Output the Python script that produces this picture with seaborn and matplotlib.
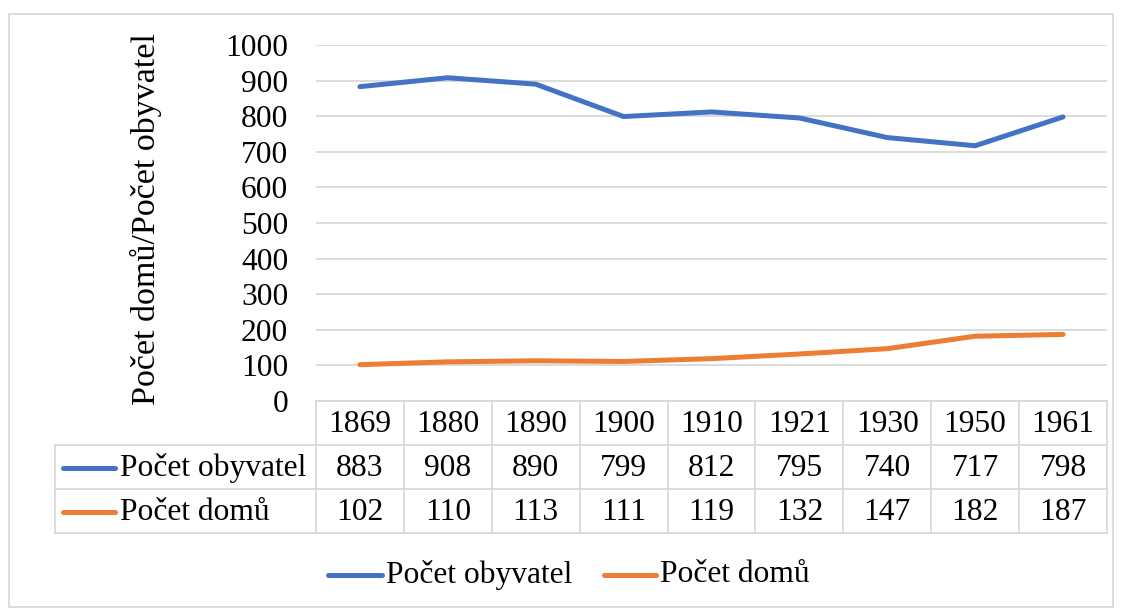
import matplotlib
matplotlib.use("Agg")
import matplotlib.pyplot as plt
import matplotlib.transforms as mtransforms
from matplotlib.lines import Line2D
from matplotlib.patches import Rectangle
import seaborn as sns
import pandas as pd

years = ["1869", "1880", "1890", "1900", "1910", "1921", "1930", "1950", "1961"]
obyvatel = [883, 908, 890, 799, 812, 795, 740, 717, 798]
domu = [102, 110, 113, 111, 119, 132, 147, 182, 187]
series_names = ["Počet obyvatel", "Počet domů"]
colors = ["#4472C4", "#ED7D31"]
yticks = list(range(0, 1001, 100))

sns.set_theme(style="white", font="Liberation Serif")
FONT = "Liberation Serif"
plt.rcParams["font.family"] = FONT

W, H = 1123, 608
fig = plt.figure(figsize=(W / 100, H / 100), dpi=100)

def fx(px):
    return px / W

def fy(py):
    return 1 - py / H

FS = 22.7
TXT = dict(fontsize=FS, family=FONT, color="black")
L, R, T, B = 316, 1107, 45, 401
ax = fig.add_axes([fx(L), fy(B), fx(R - L), (B - T) / H])

df = pd.DataFrame({
    "x": list(range(len(years))) * 2,
    "value": obyvatel + domu,
    "series": [series_names[0]] * len(years) + [series_names[1]] * len(years),
})
sns.lineplot(data=df, x="x", y="value", hue="series", palette=colors,
             linewidth=3.6, ax=ax, legend=False, solid_capstyle="round")

ax.set_xlim(-0.5, len(years) - 0.5)
ax.set_ylim(0, 1000)
ax.set_yticks(yticks)
ax.set_yticklabels([str(t) for t in yticks], **TXT)
ax.set_xticks([])
ax.tick_params(axis="y", length=0, pad=20)
ax.set_xlabel("")
ax.set_ylabel("")
for s in ax.spines.values():
    s.set_visible(False)
ax.grid(axis="y", color="#D9D9D9", linewidth=1.3)
ax.set_axisbelow(True)

fig.text(fx(146), fy(219), "Počet domů/Počet obyvatel", rotation=90,
         ha="center", va="center", fontsize=24.5, family=FONT, color="black")

# Data table
grid_c = "#D9D9D9"
blend = mtransforms.blended_transform_factory(ax.transData, fig.transFigure)
rows_y = [401, 445, 489, 533]
n = len(years)
fig.add_artist(Line2D([fx(L), fx(R)], [fy(401), fy(401)], color=grid_c, lw=1.3))
for yy in rows_y[1:]:
    fig.add_artist(Line2D([fx(55), fx(R)], [fy(yy), fy(yy)], color=grid_c, lw=1.3))
for k in range(n + 1):
    fig.add_artist(Line2D([k - 0.5, k - 0.5], [fy(401), fy(533)], color=grid_c,
                          lw=1.3, transform=blend))
fig.add_artist(Line2D([fx(55), fx(55)], [fy(445), fy(533)], color=grid_c, lw=1.3))

for i, yr in enumerate(years):
    fig.text(i, fy(424), yr, transform=blend, ha="center", va="center", **TXT)
    fig.text(i, fy(468), str(obyvatel[i]), transform=blend, ha="center", va="center", **TXT)
    fig.text(i, fy(512), str(domu[i]), transform=blend, ha="center", va="center", **TXT)

for j, (name, c) in enumerate(zip(series_names, colors)):
    yc = [468, 512][j]
    fig.add_artist(Line2D([fx(63), fx(115)], [fy(yc), fy(yc)], color=c, lw=3.6,
                          solid_capstyle="round"))
    fig.text(fx(120), fy(yc), name, ha="left", va="center", **TXT)

# Legend
leg_x = [(328, 382, 386), (604, 656, 660)]
for (x0, x1, xt), name, c in zip(leg_x, series_names, colors):
    fig.add_artist(Line2D([fx(x0), fx(x1)], [fy(575), fy(575)], color=c, lw=3.6,
                          solid_capstyle="round"))
    fig.text(fx(xt), fy(575), name, ha="left", va="center", **TXT)

fig.add_artist(Rectangle((fx(9), fy(607)), fx(1113 - 9), (607 - 14) / H,
                         transform=fig.transFigure, fill=False,
                         edgecolor="#D9D9D9", lw=1.3))

fig.savefig("out.png", dpi=100)
